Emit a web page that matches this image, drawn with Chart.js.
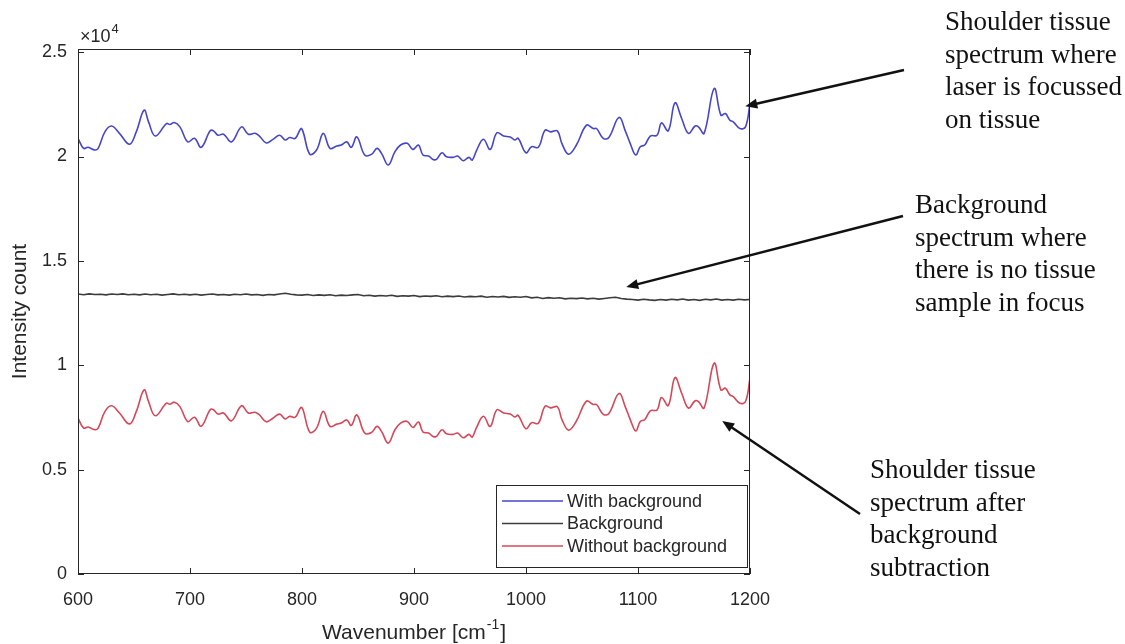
<!DOCTYPE html>
<html>
<head>
<meta charset="utf-8">
<script src="https://cdn.jsdelivr.net/npm/chart.js@4.4.1/dist/chart.umd.min.js"></script>
<style>
  html, body { margin: 0; padding: 0; background: #fff; }
  #wrap { width: 1125px; height: 644px; }
</style>
</head>
<body>
<div id="wrap"><canvas id="spectrum" width="1125" height="644"></canvas></div>
<script>
(() => {
  // values are intensity counts in units of 1e4
  const wavenumbers = [600,605,609,615,618,624,630,637,646,652,659,663,669,679,682,686,691,698,704,710,
    718,721,725,730,737,746,752,758,762,768,774,780,785,789,794,799,801,807,813,819,
    825,831,835,840,844,849,856,862,867,871,877,883,888,894,899,904,908,913,917,920,
    925,929,935,939,944,949,952,956,962,968,974,980,986,990,993,1000,1005,1011,1017,1022,
    1028,1032,1038,1045,1054,1060,1063,1069,1074,1083,1089,1093,1098,1102,1106,1111,1117,1121,1127,1133,
    1139,1145,1151,1154,1159,1168,1174,1178,1182,1185,1191,1196,1200];

  const withBackground = [2.087,2.039,2.044,2.031,2.039,2.118,2.146,2.111,2.059,2.118,
    2.222,2.166,2.098,2.158,2.153,2.163,2.142,2.070,2.087,2.044,
    2.123,2.123,2.102,2.107,2.070,2.142,2.107,2.111,2.098,2.065,
    2.082,2.102,2.079,2.091,2.087,2.134,2.118,2.011,2.031,2.111,
    2.039,2.050,2.055,2.070,2.044,2.094,2.007,2.010,2.039,2.015,
    1.959,2.023,2.055,2.063,2.034,2.055,2.007,2.002,1.986,1.986,
    2.018,1.999,1.996,2.002,1.980,1.996,1.983,2.031,2.083,2.034,
    2.114,2.098,2.094,2.079,2.087,2.018,2.047,2.044,2.126,2.118,
    2.123,2.063,2.011,2.055,2.150,2.134,2.134,2.087,2.091,2.187,
    2.118,2.063,2.007,2.047,2.055,2.098,2.102,2.161,2.123,2.257,
    2.182,2.111,2.146,2.142,2.111,2.326,2.198,2.206,2.174,2.166,
    2.134,2.142,2.254];

  const withoutBackground = [0.747,0.699,0.704,0.691,0.699,0.778,0.806,0.771,0.719,0.778,
    0.882,0.826,0.758,0.818,0.813,0.823,0.802,0.730,0.751,0.708,
    0.787,0.787,0.766,0.771,0.734,0.806,0.771,0.775,0.762,0.729,
    0.746,0.766,0.743,0.755,0.751,0.798,0.786,0.679,0.699,0.779,
    0.707,0.718,0.723,0.738,0.712,0.762,0.675,0.678,0.707,0.683,
    0.627,0.691,0.723,0.731,0.702,0.728,0.680,0.675,0.659,0.659,
    0.691,0.672,0.669,0.675,0.653,0.669,0.656,0.704,0.756,0.707,
    0.787,0.771,0.767,0.752,0.760,0.696,0.725,0.722,0.804,0.796,
    0.801,0.741,0.689,0.733,0.828,0.812,0.812,0.765,0.769,0.865,
    0.796,0.741,0.685,0.731,0.739,0.782,0.786,0.845,0.807,0.941,
    0.866,0.795,0.830,0.826,0.795,1.010,0.882,0.890,0.858,0.850,
    0.818,0.826,0.938];

  const bgWavenumbers = [600,605,610,615,620,625,630,635,640,645,650,655,660,665,670,675,680,685,690,695,
    700,705,710,715,720,725,730,735,740,745,750,755,760,765,770,775,780,785,790,795,
    800,805,810,815,820,825,830,835,840,845,850,855,860,865,870,875,880,885,890,895,
    900,905,910,915,920,925,930,935,940,945,950,955,960,965,970,975,980,985,990,995,
    1000,1005,1010,1015,1020,1025,1030,1035,1040,1045,1050,1055,1060,1065,1070,1075,1080,1085,1090,1095,
    1100,1105,1110,1115,1120,1125,1130,1135,1140,1145,1150,1155,1160,1165,1170,1175,1180,1185,1190,1195,1200];

  const background = [1.341,1.338,1.342,1.339,1.340,1.337,1.341,1.339,1.342,1.338,1.340,1.337,1.341,1.338,1.340,1.336,1.339,1.342,1.338,1.340,
    1.337,1.340,1.336,1.339,1.341,1.337,1.339,1.336,1.340,1.338,1.341,1.337,1.339,1.335,1.339,1.337,1.341,1.345,1.340,1.337,
    1.336,1.339,1.334,1.337,1.335,1.338,1.333,1.336,1.334,1.337,1.339,1.333,1.335,1.331,1.334,1.332,1.335,1.330,1.333,1.331,
    1.334,1.329,1.332,1.330,1.333,1.328,1.331,1.329,1.332,1.327,1.330,1.328,1.331,1.326,1.329,1.327,1.330,1.325,1.328,1.326,
    1.329,1.323,1.326,1.320,1.324,1.321,1.323,1.318,1.321,1.319,1.322,1.318,1.321,1.317,1.320,1.323,1.326,1.320,1.317,1.315,
    1.312,1.316,1.313,1.311,1.315,1.312,1.316,1.313,1.317,1.312,1.315,1.311,1.316,1.313,1.317,1.312,1.315,1.312,1.316,1.313,1.315];

  const xTicks = [600, 700, 800, 900, 1000, 1100, 1200];
  const yTicks = [0, 0.5, 1, 1.5, 2, 2.5];
  const seriesLabels = ['With background', 'Background', 'Without background'];
  const seriesColors = ['#4646c8', '#3c3c3c', '#d4485a'];

  // callouts: text block + arrow whose head sits on a data coordinate
  const callouts = [
    { lines: ['Shoulder tissue', 'spectrum where', 'laser is focussed', 'on tissue'], tx: 945, ty: 30,
      tail: [904, 70], head: [1195.8, 2.241] },
    { lines: ['Background', 'spectrum where', 'there is no tissue', 'sample in focus'], tx: 915, ty: 213,
      tail: [903, 216], head: [1089.5, 1.3745] },
    { lines: ['Shoulder tissue', 'spectrum after', 'background', 'subtraction'], tx: 870, ty: 478,
      tail: [860, 514], head: [1175.2, 0.733] }
  ];

  const AXIS_FONT = "'Liberation Sans', Arial, sans-serif";
  const SERIF_FONT = "'Liberation Serif', 'Times New Roman', serif";
  const INK = '#262626';

  const toPoints = (xs, ys) => xs.map((x, i) => ({ x, y: ys[i] }));

  const framePlugin = {
    id: 'matlabFrame',
    afterDraw(chart) {
      const { ctx, chartArea: a, scales: { x, y } } = chart;
      ctx.save();

      // axes box with inward ticks
      ctx.strokeStyle = INK;
      ctx.lineWidth = 1;
      ctx.strokeRect(a.left + 0.5, a.top + 0.5, a.right - a.left - 1, a.bottom - a.top - 1);
      ctx.beginPath();
      xTicks.forEach(v => {
        const px = Math.round(x.getPixelForValue(v)) + 0.5;
        ctx.moveTo(px, a.bottom); ctx.lineTo(px, a.bottom - 6);
        ctx.moveTo(px, a.top); ctx.lineTo(px, a.top + 6);
      });
      yTicks.forEach(v => {
        const py = Math.round(y.getPixelForValue(v)) + 0.5;
        ctx.moveTo(a.left, py); ctx.lineTo(a.left + 6, py);
        ctx.moveTo(a.right, py); ctx.lineTo(a.right - 6, py);
      });
      ctx.stroke();

      // exponent label
      ctx.fillStyle = INK;
      ctx.textBaseline = 'alphabetic';
      ctx.textAlign = 'left';
      ctx.font = '18px ' + AXIS_FONT;
      ctx.fillText('\u00d710', a.left + 2, 42);
      const w10 = ctx.measureText('\u00d710').width;
      ctx.font = '13px ' + AXIS_FONT;
      ctx.fillText('4', a.left + 3 + w10, 33);

      // x title with superscript
      ctx.font = '21px ' + AXIS_FONT;
      const main = 'Wavenumber [cm';
      const wMain = ctx.measureText(main).width;
      ctx.font = '14px ' + AXIS_FONT;
      const wSup = ctx.measureText('-1').width;
      ctx.font = '21px ' + AXIS_FONT;
      const wEnd = ctx.measureText(']').width;
      const cx = (a.left + a.right) / 2;
      const sx = cx - (wMain + wSup + wEnd + 2) / 2;
      ctx.fillText(main, sx, 639);
      ctx.font = '14px ' + AXIS_FONT;
      ctx.fillText('-1', sx + wMain + 1, 629);
      ctx.font = '21px ' + AXIS_FONT;
      ctx.fillText(']', sx + wMain + wSup + 2, 639);

      // y title
      ctx.save();
      ctx.translate(20, (a.top + a.bottom) / 2);
      ctx.rotate(-Math.PI / 2);
      ctx.textAlign = 'center';
      ctx.textBaseline = 'middle';
      ctx.fillText('Intensity count', 0, 0);
      ctx.restore();

      // legend
      const lx = 496, ly = 485, lw = 251, lh = 82;
      ctx.fillStyle = '#fff';
      ctx.fillRect(lx, ly, lw, lh);
      ctx.strokeStyle = INK;
      ctx.strokeRect(lx + 0.5, ly + 0.5, lw, lh);
      ctx.font = '18px ' + AXIS_FONT;
      ctx.textBaseline = 'middle';
      chart.data.datasets.forEach((ds, i) => {
        const ry = ly + 16 + i * 22.5;
        ctx.strokeStyle = ds.borderColor;
        ctx.lineWidth = 1.5;
        ctx.beginPath();
        ctx.moveTo(lx + 6, ry); ctx.lineTo(lx + 67, ry);
        ctx.stroke();
        ctx.fillStyle = INK;
        ctx.fillText(ds.label, lx + 71, ry + 1);
      });

      // callouts
      ctx.font = '27px ' + SERIF_FONT;
      ctx.textBaseline = 'alphabetic';
      ctx.fillStyle = '#111';
      ctx.strokeStyle = '#111';
      callouts.forEach(c => {
        c.lines.forEach((t, i) => ctx.fillText(t, c.tx, c.ty + i * 32.7));
        const hx = x.getPixelForValue(c.head[0]);
        const hy = y.getPixelForValue(c.head[1]);
        const [tx, ty] = c.tail;
        const ang = Math.atan2(hy - ty, hx - tx);
        ctx.lineWidth = 2.5;
        ctx.beginPath();
        ctx.moveTo(tx, ty);
        ctx.lineTo(hx - 8 * Math.cos(ang), hy - 8 * Math.sin(ang));
        ctx.stroke();
        ctx.beginPath();
        ctx.moveTo(hx, hy);
        ctx.lineTo(hx - 12 * Math.cos(ang) + 5 * Math.sin(ang), hy - 12 * Math.sin(ang) - 5 * Math.cos(ang));
        ctx.lineTo(hx - 12 * Math.cos(ang) - 5 * Math.sin(ang), hy - 12 * Math.sin(ang) + 5 * Math.cos(ang));
        ctx.closePath();
        ctx.fill();
      });

      ctx.restore();
    }
  };

  new Chart(document.getElementById('spectrum').getContext('2d'), {
    type: 'line',
    data: {
      datasets: [
        { label: seriesLabels[0], data: toPoints(wavenumbers, withBackground), borderColor: seriesColors[0], tension: 0.4 },
        { label: seriesLabels[1], data: toPoints(bgWavenumbers, background), borderColor: seriesColors[1], tension: 0 },
        { label: seriesLabels[2], data: toPoints(wavenumbers, withoutBackground), borderColor: seriesColors[2], tension: 0.4 }
      ]
    },
    options: {
      responsive: false,
      animation: false,
      devicePixelRatio: 1,
      layout: { padding: { left: 0, top: 49, right: 375, bottom: 0 } },
      elements: { point: { radius: 0 }, line: { borderWidth: 1.6 } },
      plugins: { legend: { display: false }, tooltip: { enabled: false } },
      scales: {
        x: {
          type: 'linear', min: 600, max: 1200,
          grid: { display: false, drawTicks: false },
          border: { display: false },
          ticks: { color: INK, font: { size: 18, family: AXIS_FONT }, padding: 15, maxRotation: 0, autoSkip: false,
            callback: v => String(v) },
          afterBuildTicks: s => { s.ticks = xTicks.map(v => ({ value: v })); },
          afterFit: s => { s.height = 70; }
        },
        y: {
          type: 'linear', min: 0, max: 2.515,
          grid: { display: false, drawTicks: false },
          border: { display: false },
          ticks: { color: INK, font: { size: 18, family: AXIS_FONT }, padding: 11, autoSkip: false,
            callback: v => String(v) },
          afterBuildTicks: s => { s.ticks = yTicks.map(v => ({ value: v })); },
          afterFit: s => { s.width = 78; }
        }
      }
    },
    plugins: [framePlugin]
  });
})();
</script>
</body>
</html>
